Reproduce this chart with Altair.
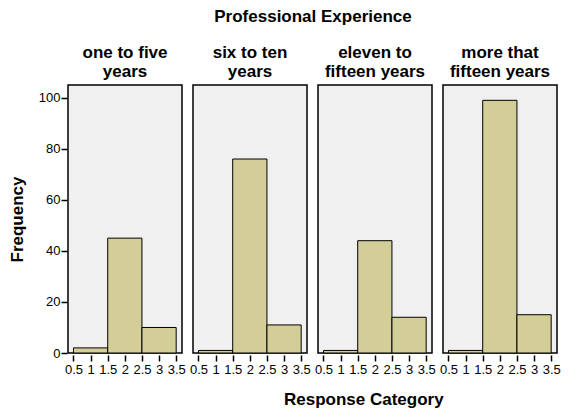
import altair as alt
import pandas as pd

panels = ["one to five years", "six to ten years", "eleven to fifteen years", "more that fifteen years"]
panel_lines = [["one to five", "years"], ["six to ten", "years"],
               ["eleven to", "fifteen years"], ["more that", "fifteen years"]]
bin_start = [0.5, 1.5, 2.5]
bin_end = [1.5, 2.5, 3.5]
counts = [[2, 45, 10], [1, 76, 11], [1, 44, 14], [1, 99, 15]]
x_ticks = [0.5, 1, 1.5, 2, 2.5, 3, 3.5]
y_ticks = [0, 20, 40, 60, 80, 100]

rows = []
for p, cs in zip(panels, counts):
    for s, e, c in zip(bin_start, bin_end, cs):
        rows.append({"panel": p, "start": s, "end": e, "count": c})
df = pd.DataFrame(rows)

expr = "''"
for p, lines in reversed(list(zip(panels, panel_lines))):
    arr = "[" + ",".join("'" + l + "'" for l in lines) + "]"
    expr = f"datum.value == '{p}' ? {arr} : ({expr})"

FONT = "Liberation Sans"

chart = alt.Chart(df).mark_rect(
    color="#D3CE97", stroke="black", strokeWidth=1
).encode(
    x=alt.X("start:Q", title=None,
            scale=alt.Scale(domain=[0.34, 3.67], nice=False, zero=False),
            axis=alt.Axis(values=x_ticks, format="~g", labelOverlap=False,
                          labelFlush=False, grid=False, domain=False,
                          tickSize=6, tickColor="black", tickWidth=1.5,
                          labelFontSize=13, labelColor="black", labelFont=FONT,
                          labelPadding=2)),
    x2="end:Q",
    y=alt.Y("count:Q", title="Frequency",
            scale=alt.Scale(domain=[0, 105], nice=False),
            axis=alt.Axis(values=y_ticks, grid=False, domain=False,
                          tickSize=6, tickColor="black", tickWidth=1.5,
                          labelFontSize=13, labelColor="black", labelFont=FONT,
                          labelPadding=1,
                          titleFontSize=17, titleFont=FONT, titleFontWeight="bold",
                          titleColor="black", titlePadding=12)),
    y2=alt.Y2(datum=0),
).properties(width=114, height=268).facet(
    column=alt.Column("panel:N", sort=panels,
                      header=alt.Header(title="Professional Experience",
                                        titleFontSize=17, titleFont=FONT,
                                        titleFontWeight="bold", titleColor="black",
                                        titlePadding=8,
                                        labelExpr=expr, labelFontSize=17,
                                        labelFont=FONT, labelFontWeight="bold",
                                        labelColor="black", labelPadding=3,
                                        labelLineHeight=19)),
    spacing=9,
).properties(
    title=alt.TitleParams("Response Category", orient="bottom", anchor="start",
                          frame="group", fontSize=17, font=FONT, fontWeight="bold",
                          color="black", offset=16, dx=216),
    padding=0,
).configure_view(
    fill="#F0F0F0", stroke="black", strokeWidth=1.5
)

chart.save("out.html", embed_options={"renderer": "svg", "actions": False})
